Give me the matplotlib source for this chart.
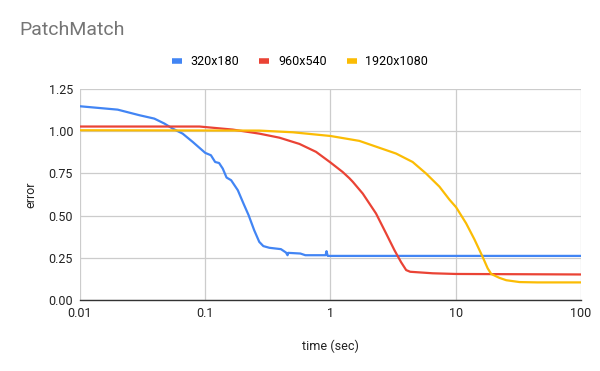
import matplotlib
matplotlib.use("Agg")
import matplotlib.pyplot as plt
from matplotlib.lines import Line2D

plt.rcParams["font.family"] = ["Roboto", "DejaVu Sans"]

# data (time in sec, error)
t_320 = [0.01, 0.02, 0.0298, 0.0392, 0.0471, 0.0549, 0.066, 0.0794, 0.1, 0.111,
         0.120, 0.129, 0.138, 0.148, 0.161, 0.182, 0.202, 0.222, 0.246, 0.270,
         0.291, 0.325, 0.402, 0.441, 0.454, 0.46, 0.575, 0.63, 0.914, 0.93, 0.95,
         1.17, 100]
e_320 = [1.148, 1.128, 1.095, 1.075, 1.046, 1.016, 0.986, 0.937, 0.872, 0.858,
         0.818, 0.812, 0.779, 0.726, 0.710, 0.651, 0.572, 0.503, 0.414, 0.345,
         0.320, 0.310, 0.302, 0.282, 0.266, 0.280, 0.276, 0.266, 0.266, 0.29, 0.262,
         0.262, 0.262]

t_960 = [0.01, 0.09, 0.1655, 0.27, 0.391, 0.565, 0.767, 1.0, 1.25, 1.415, 1.51,
         1.81, 2.31, 2.78, 3.24, 3.66, 4.02, 4.33, 6.55, 10.0, 100]
e_960 = [1.028, 1.028, 1.010, 0.986, 0.962, 0.925, 0.878, 0.815, 0.759, 0.722,
         0.700, 0.631, 0.513, 0.395, 0.296, 0.225, 0.178, 0.168, 0.159, 0.155, 0.152]

t_1920 = [0.01, 0.27, 0.5, 1.0, 1.7, 3.34, 3.55, 4.53, 5.79, 7.41, 8.91, 10.07,
          12.1, 14.1, 16.4, 18.0, 19.2, 22.3, 25.3, 32.3, 45, 100]
e_1920 = [1.006, 1.004, 0.994, 0.972, 0.943, 0.868, 0.858, 0.818, 0.750, 0.672,
          0.595, 0.550, 0.455, 0.360, 0.256, 0.188, 0.155, 0.132, 0.118, 0.107,
          0.105, 0.105]

series = [("320x180", t_320, e_320, "#4285f4"),
          ("960x540", t_960, e_960, "#ea4335"),
          ("1920x1080", t_1920, e_1920, "#fbbc04")]

x_ticks = [0.01, 0.1, 1, 10, 100]
x_tick_labels = ["0.01", "0.1", "1", "10", "100"]
y_ticks = [0.0, 0.25, 0.5, 0.75, 1.0, 1.25]

fig = plt.figure(figsize=(6, 3.71), dpi=100)
ax = fig.add_axes([0.1333, 0.191, 0.835, 0.569])

for name, t, e, c in series:
    ax.plot(t, e, color=c, linewidth=1.6, label=name, solid_joinstyle="round")

ax.set_xscale("log")
ax.set_xlim(0.01, 100)
ax.set_ylim(0, 1.25)
ax.set_xticks(x_ticks)
ax.set_xticklabels(x_tick_labels)
ax.minorticks_off()
ax.set_yticks(y_ticks)
ax.set_yticklabels([f"{v:.2f}" for v in y_ticks])
ax.grid(True, color="#cccccc", linewidth=0.9)
ax.set_axisbelow(True)
ax.tick_params(length=0, labelsize=9, colors="#222222", pad=5)

for s in ["left", "top", "right"]:
    ax.spines[s].set_visible(False)
ax.spines["bottom"].set_color("#333333")
ax.spines["bottom"].set_linewidth(1.0)
ax.spines["bottom"].set_zorder(5)

ax.set_xlabel("time (sec)", fontsize=9, color="#222222", labelpad=14)
ax.set_ylabel("error", fontsize=9, color="#222222", labelpad=8)

fig.text(0.033, 0.918, "PatchMatch", fontsize=14, color="#757575", va="center")

handles = [Line2D([0], [0], color=c, linewidth=4, solid_capstyle="butt")
           for _, _, _, c in series]
fig.legend(handles, [s[0] for s in series], loc="center", bbox_to_anchor=(0.5, 0.833),
           ncol=3, frameon=False, fontsize=9, handlelength=0.8, handletextpad=0.7,
           columnspacing=1.6)

fig.savefig("out.png", dpi=100)
